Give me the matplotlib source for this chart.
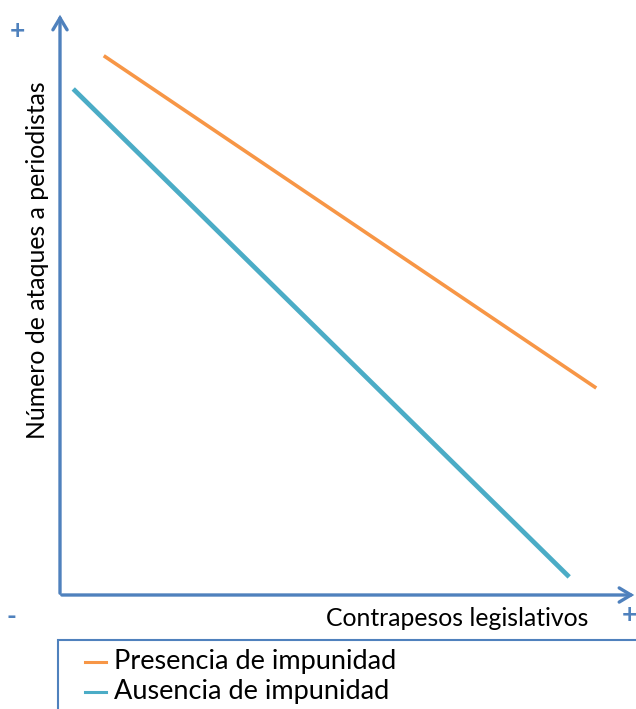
import matplotlib.pyplot as plt
from matplotlib.patches import Rectangle, FancyArrowPatch
from matplotlib.lines import Line2D

# data (arbitrary 0-10 scale)
presencia_x = [0.76, 9.31]
presencia_y = [9.25, 3.55]
ausencia_x = [0.23, 8.84]
ausencia_y = [8.68, 0.31]

series_names = ["Presencia de impunidad", "Ausencia de impunidad"]
x_label = "Contrapesos legislativos"
y_label = "Número de ataques a periodistas"

orange = "#F79646"
teal = "#4BACC6"
axisColor = "#4F81BD"
fontFamily = ["Lato", "DejaVu Sans"]

W, H = 636, 709
fig = plt.figure(figsize=(W / 100, H / 100), dpi=100)

# axes in pixel units: left 60, bottom 595, right 636, top 12
ax = fig.add_axes([60 / W, 1 - 595 / H, 576 / W, 583 / H])
ax.set_xlim(0, 10)
ax.set_ylim(0, 10)
ax.axis("off")

ax.plot(presencia_x, presencia_y, color=orange, lw=2.6, solid_capstyle="butt")
ax.plot(ausencia_x, ausencia_y, color=teal, lw=3.4, solid_capstyle="butt")


def fx(px):
    return px / W


def fy(py):
    return 1 - py / H


# axis arrows
for start, end in [((fx(60), fy(596)), (fx(60), fy(12))),
                   ((fx(59), fy(595)), (fx(637), fy(595)))]:
    arr = FancyArrowPatch(start, end, transform=fig.transFigure,
                          arrowstyle="->,head_length=5,head_width=3",
                          color=axisColor, lw=2.4, mutation_scale=1.7,
                          joinstyle="miter")
    fig.add_artist(arr)

fig.text(fx(588), fy(618), x_label, ha="right", va="center",
         fontsize=17.8, family=fontFamily, color="black")
fig.text(fx(38), fy(260), y_label, ha="center", va="center", rotation=90,
         fontsize=17.8, family=fontFamily, color="black")

fig.text(fx(17), fy(31), "+", ha="center", va="center", fontsize=19,
         color=axisColor, fontweight="bold", family=fontFamily)
fig.text(fx(11), fy(617), "-", ha="center", va="center", fontsize=19,
         color=axisColor, fontweight="bold", family=fontFamily)
fig.text(fx(629), fy(615), "+", ha="center", va="center", fontsize=19,
         color=axisColor, fontweight="bold", family=fontFamily)

# legend box (cut by figure edge)
fig.add_artist(Rectangle((fx(58), fy(720)), fx(600), 80 / H,
                         transform=fig.transFigure, fill=False,
                         edgecolor=axisColor, lw=1.5))
for i, (name, col) in enumerate(zip(series_names, [orange, teal])):
    yy = fy(662 + i * 30)
    fig.add_artist(Line2D([fx(85), fx(106)], [yy, yy], color=col, lw=2.2,
                          transform=fig.transFigure))
    fig.text(fx(114), yy, name, ha="left", va="center", fontsize=19.5,
             family=fontFamily, color="black")

fig.savefig("out.png", dpi=100)
